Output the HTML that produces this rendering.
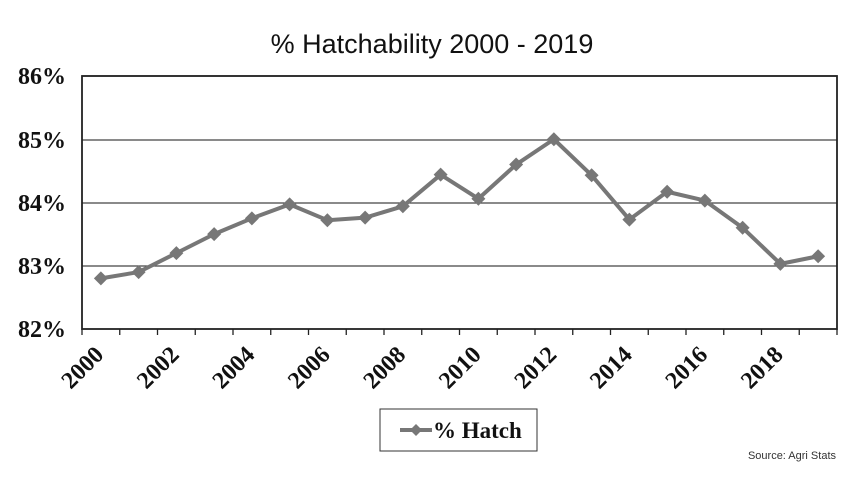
<!DOCTYPE html>
<html><head><meta charset="utf-8"><style>body{margin:0;background:#fff}</style></head><body>
<svg width="865" height="488" xmlns="http://www.w3.org/2000/svg">
<rect width="865" height="488" fill="#fff"/>
<text x="432" y="53" text-anchor="middle" font-family="Liberation Sans, sans-serif" font-size="27" fill="#111">% Hatchability 2000 - 2019</text>
<g stroke="#444" stroke-width="1.3">
<line x1="82" y1="76" x2="837" y2="76"/>
<line x1="82" y1="140" x2="837" y2="140"/>
<line x1="82" y1="203" x2="837" y2="203"/>
<line x1="82" y1="266" x2="837" y2="266"/>
</g>
<rect x="82" y="76" width="755" height="253" fill="none" stroke="#222" stroke-width="1.8"/>
<g stroke="#222" stroke-width="1.3" id="t"></g>
<g font-family="Liberation Serif, serif" font-weight="bold" font-size="24" fill="#111" text-anchor="end">
<text x="66" y="84">86%</text><text x="66" y="148">85%</text><text x="66" y="211">84%</text><text x="66" y="274">83%</text><text x="66" y="337">82%</text>
</g>
<g id="lab" font-family="Liberation Serif, serif" font-weight="bold" font-size="24" fill="#111" text-anchor="end"></g>
<polyline id="ln" fill="none" stroke="#777" stroke-width="4" stroke-linejoin="round"/>
<g id="mk" fill="#777"></g>
<rect x="380" y="409" width="157" height="42" fill="#fff" stroke="#333" stroke-width="1"/>
<line x1="400" y1="430" x2="432" y2="430" stroke="#777" stroke-width="4"/>
<path d="M416 424 L422 430 L416 436 L410 430Z" fill="#777"/>
<text x="433" y="438" font-family="Liberation Serif, serif" font-weight="bold" font-size="23" fill="#111">% Hatch</text>
<text x="836" y="459" text-anchor="end" font-family="Liberation Sans, sans-serif" font-size="11" fill="#333">Source: Agri Stats</text>
</svg>
<script>
var v=[82.8,82.9,83.2,83.5,83.75,83.97,83.72,83.76,83.94,84.44,84.06,84.6,85.0,84.43,83.73,84.17,84.03,83.6,83.03,83.15];
var ns="http://www.w3.org/2000/svg",pts=[],t=document.getElementById('t'),mk=document.getElementById('mk'),lab=document.getElementById('lab');
var W=37.75;
for(var i=0;i<=20;i++){var x=82+i*W,l=document.createElementNS(ns,'line');l.setAttribute('x1',x);l.setAttribute('x2',x);l.setAttribute('y1',329);l.setAttribute('y2',335);t.appendChild(l);}
v.forEach(function(d,i){var x=82+(i+0.5)*W,y=329-(d-82)*63.25;pts.push(x+','+y);
var p=document.createElementNS(ns,'path');p.setAttribute('d','M'+x+' '+(y-7)+' L'+(x+7)+' '+y+' L'+x+' '+(y+7)+' L'+(x-7)+' '+y+'Z');mk.appendChild(p);
if(i%2==0){var tx=document.createElementNS(ns,'text');tx.setAttribute('transform','translate('+(x+4)+',356) rotate(-45)');tx.textContent=2000+i;lab.appendChild(tx);}});
document.getElementById('ln').setAttribute('points',pts.join(' '));
</script>
</body></html>
